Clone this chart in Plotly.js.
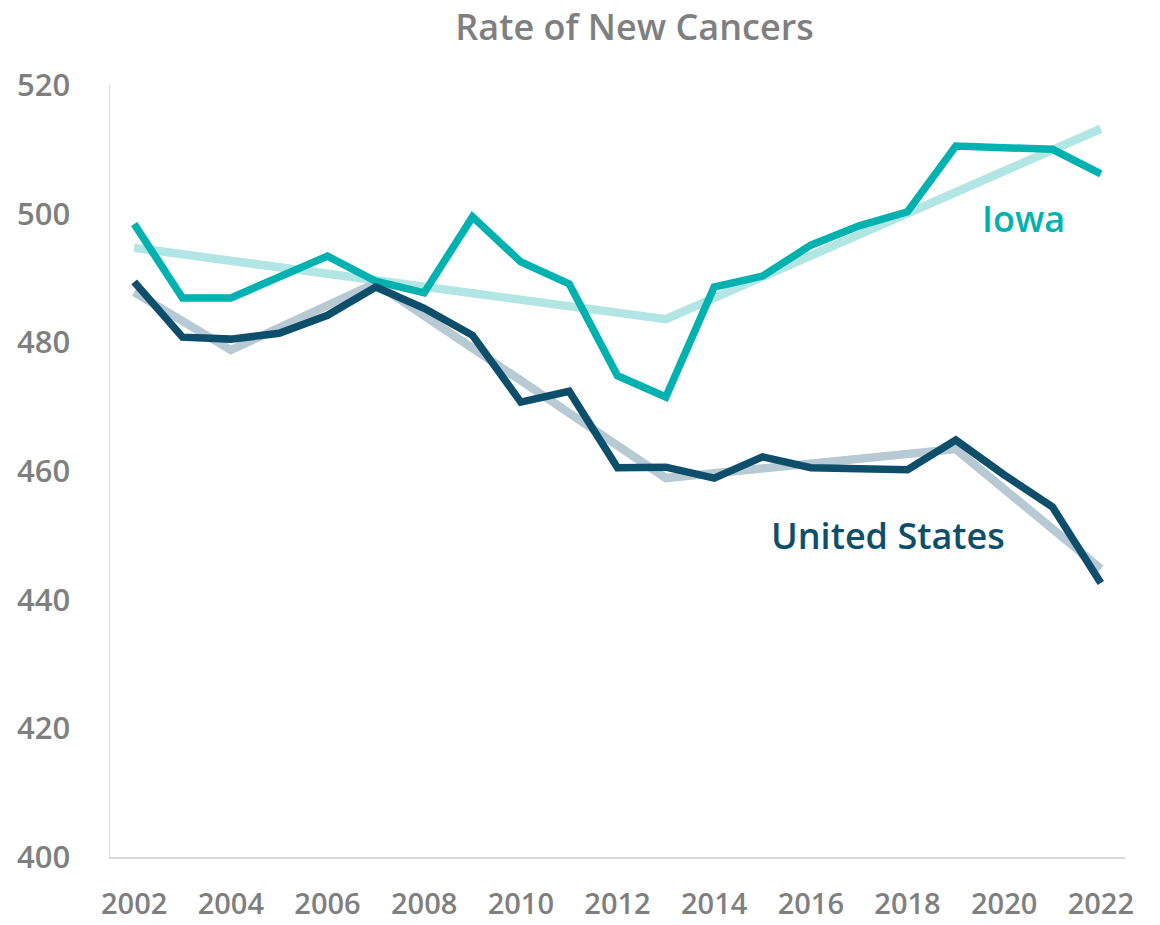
<!DOCTYPE html>
<html>
<head>
<meta charset="utf-8">
<script src="https://cdn.plot.ly/plotly-3.0.1.min.js"></script>
<style>html,body{margin:0;padding:0;background:#fff}#chart{width:1160px;height:925px}</style>
</head>
<body>
<div id="chart"></div>
<script>
const years = [2002,2003,2004,2005,2006,2007,2008,2009,2010,2011,2012,2013,2014,2015,2016,2017,2018,2019,2020,2021,2022];
const iowa = [498.4,486.9,486.9,490.0,493.4,489.5,487.7,499.5,492.5,489.1,474.8,471.5,488.6,490.3,495.1,498.1,500.3,510.5,510.2,510.0,506.2];
const us = [489.4,480.8,480.5,481.4,484.2,488.6,485.3,481.1,470.7,472.4,460.5,460.6,458.9,462.2,460.5,460.3,460.2,464.8,459.4,454.4,442.6];
const iowaTrendYears = [2002,2013,2022];
const iowaTrend = [494.7,483.6,513.2];
const usTrendYears = [2002,2004,2007,2013,2019,2022];
const usTrend = [487.8,478.8,489.2,458.9,463.4,444.8];
const yTicks = [400,420,440,460,480,500,520];
const xTicks = [2002,2004,2006,2008,2010,2012,2014,2016,2018,2020,2022];

const traces = [
  {x: iowaTrendYears, y: iowaTrend, mode:'lines', line:{color:'#B2E6E5', width:8.5}, hoverinfo:'skip'},
  {x: usTrendYears, y: usTrend, mode:'lines', line:{color:'#B7CAD4', width:8.5}, hoverinfo:'skip'},
  {x: years, y: iowa, name:'Iowa', mode:'lines', line:{color:'#00B2AF', width:7.5}},
  {x: years, y: us, name:'United States', mode:'lines', line:{color:'#0D4F6B', width:7.5}}
];

const layout = {
  width:1160, height:925,
  paper_bgcolor:'#fff', plot_bgcolor:'#fff',
  showlegend:false,
  margin:{l:110, r:35, t:85, b:68},
  title:{text:'Rate of New Cancers', x:0.547, xanchor:'center', y:0.97, yanchor:'middle',
         font:{family:'Open Sans', size:36, color:'#7F7F7F', weight:600}},
  xaxis:{range:[2001.5,2022.5], tickvals:xTicks, ticktext:xTicks.map(String), showgrid:false, zeroline:false,
         showline:true, linecolor:'#D9D9D9', linewidth:1.5, ticks:'', ticklabelstandoff:21,
         tickfont:{family:'Open Sans', size:29, color:'#7F7F7F', weight:600}},
  yaxis:{range:[400,520], tickvals:yTicks, showgrid:false, zeroline:false,
         showline:true, linecolor:'#D9D9D9', linewidth:1.5, ticks:'', ticklabelstandoff:32,
         tickfont:{family:'Open Sans', size:31, color:'#7F7F7F', weight:600}},
  annotations:[
    {x:2020.4, y:499.2, text:'Iowa', showarrow:false, xanchor:'center', yanchor:'middle',
     font:{family:'Open Sans', size:36, color:'#00B2AF', weight:600}},
    {x:2017.6, y:450.0, text:'United States', showarrow:false, xanchor:'center', yanchor:'middle',
     font:{family:'Open Sans', size:36, color:'#0D4F6B', weight:600}}
  ]
};
Plotly.newPlot('chart', traces, layout, {displayModeBar:false, staticPlot:true});
</script>
</body>
</html>
